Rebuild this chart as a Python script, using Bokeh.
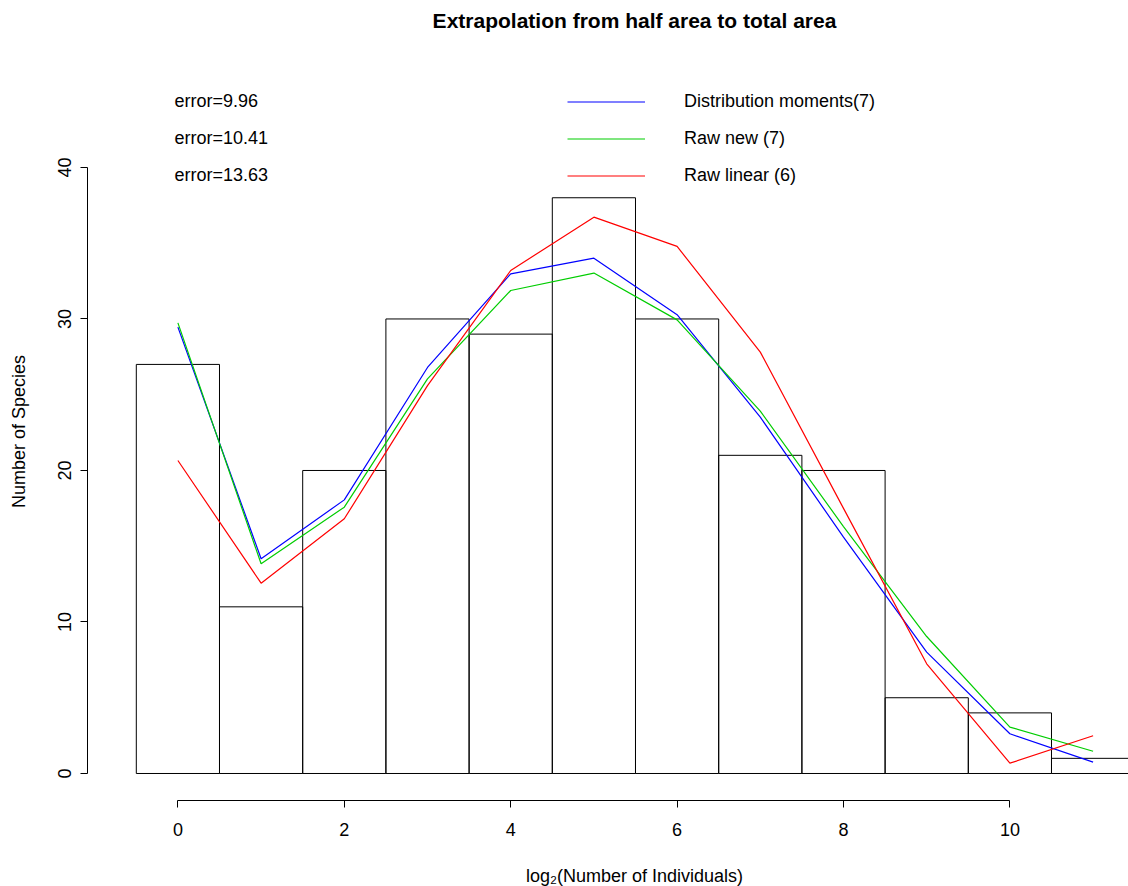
import math
from bokeh.plotting import figure
from bokeh.models import Range1d, FixedTicker, Label, Legend, LegendItem, ColumnDataSource
from bokeh.embed import file_html
from bokeh.resources import INLINE

# ---- data ----
classes = [0, 1, 2, 3, 4, 5, 6, 7, 8, 9, 10, 11]
observed = [27, 11, 20, 30, 29, 38, 30, 21, 20, 5, 4, 1]
dist_moments = [29.46, 14.17, 18.06, 26.8, 32.98, 34.01, 30.28, 23.52, 15.6, 8.01, 2.62, 0.75]
raw_new = [29.74, 13.84, 17.58, 26.05, 31.88, 33.03, 29.94, 23.92, 16.3, 9.04, 3.06, 1.47]
raw_linear = [20.66, 12.56, 16.81, 25.6, 33.2, 36.72, 34.79, 27.81, 17.5, 7.24, 0.68, 2.49]
series_names = ["Distribution moments(7)", "Raw new (7)", "Raw linear (6)"]
error_texts = ["error=9.96", "error=10.41", "error=13.63"]
x_ticks = [0, 2, 4, 6, 8, 10]
y_ticks = [0, 10, 20, 30, 40]
title_text = "Extrapolation from half area to total area"
x_label = "log\u2082(Number of Individuals)"
y_label = "Number of Species"

FONT = "Liberation Sans"
FS = "18px"
W, H = 1128, 886

# frame fills the canvas; R-style detached axes are placed with fixed_location
p = figure(width=W, height=H,
           x_range=Range1d(-2.1322, 11.4255), y_range=Range1d(-7.459, 51.02),
           min_border=0, toolbar_location=None, output_backend="svg")
p.outline_line_color = None
p.grid.visible = False
p.background_fill_color = "white"
p.border_fill_color = "white"

src = ColumnDataSource(dict(
    left=[c - 0.5 for c in classes], right=[c + 0.5 for c in classes],
    bottom=[0] * len(classes), top=observed))
p.quad(left="left", right="right", bottom="bottom", top="top", source=src,
       fill_color=None, line_color="black", line_width=1)

colors = ["#0000FF", "#00CD00", "#FF0000"]
renderers = []
for ys, c in zip([dist_moments, raw_new, raw_linear], colors):
    r = p.line(classes, ys, line_color=c, line_width=1.2)
    renderers.append(r)

# axes
for ax in (p.xaxis[0], p.yaxis[0]):
    ax.major_tick_in = 0
    ax.major_tick_out = 7
    ax.minor_tick_in = 0
    ax.minor_tick_out = 0
    ax.axis_line_color = "black"
    ax.major_tick_line_color = "black"
    ax.major_label_text_color = "black"
    ax.major_label_text_font = FONT
    ax.major_label_text_font_size = FS

xa = p.xaxis[0]
xa.ticker = FixedTicker(ticks=x_ticks)
xa.bounds = (0, 10)
xa.fixed_location = -1.782
xa.major_label_standoff = 16

ya = p.yaxis[0]
ya.ticker = FixedTicker(ticks=y_ticks)
ya.bounds = (0, 40)
ya.fixed_location = -1.0865
ya.major_label_orientation = "vertical"
ya.major_label_standoff = 9


def lab(x, y, text, **kw):
    opts = dict(x_units="screen", y_units="screen", text_font=FONT, text_font_size=FS,
                text_baseline="middle", text_color="black")
    opts.update(kw)
    p.add_layout(Label(x=x, y=H - y, text=text, **opts))


lab(634, 20, title_text, text_font_size="21px", text_font_style="bold", text_align="center")
lab(634, 875, x_label, text_align="center")
lab(18, 431, y_label, text_align="center", angle=math.pi / 2)
for i, t in enumerate(error_texts):
    lab(174, 100.5 + 37 * i, t, text_align="left")

legend = Legend(items=[LegendItem(label=n, renderers=[r]) for n, r in zip(series_names, renderers)],
                location=(567, H - 185.5), orientation="vertical",
                glyph_width=78, glyph_height=21, label_height=21, spacing=16,
                label_standoff=39, padding=0, margin=0,
                border_line_color=None, background_fill_alpha=0,
                label_text_font=FONT, label_text_font_size=FS, label_text_color="black")
p.add_layout(legend)

open("out.html", "w").write(file_html(p, INLINE))
